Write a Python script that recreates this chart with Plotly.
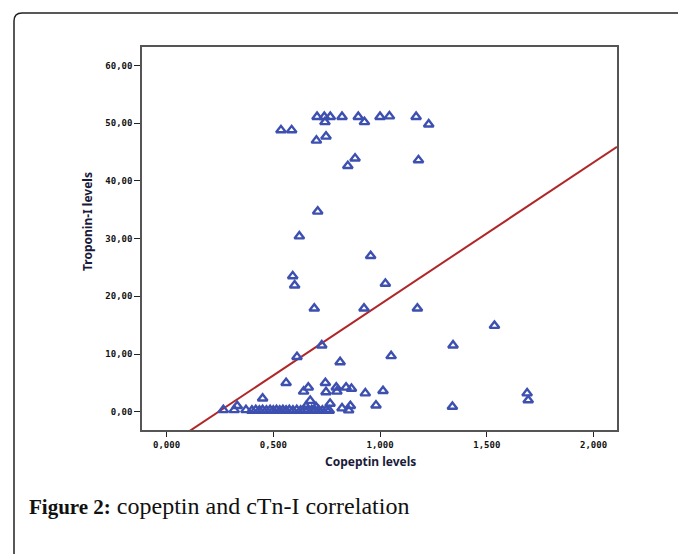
import plotly.graph_objects as go

# ---- data ----
copeptin = [
    0.536, 0.586,
    0.705, 0.739, 0.767, 0.742, 0.822, 0.898, 0.927, 1.000, 1.044, 1.169, 1.228,
    0.702, 0.747,
    0.849, 0.883, 1.180,
    0.708, 0.622, 0.956, 0.591, 0.600, 1.025,
    0.692, 0.925, 1.175, 1.536,
    1.342, 1.052, 1.014, 0.981, 1.339, 1.689, 1.694,
    0.727, 0.611, 0.813, 0.560, 0.642, 0.664, 0.744, 0.747, 0.795, 0.798, 0.841, 0.866, 0.931,
    0.450, 0.673, 0.766, 0.822, 0.861, 0.853,
    0.266, 0.317, 0.331, 0.372,
    0.400, 0.418, 0.435, 0.450, 0.468, 0.485, 0.500, 0.515, 0.530, 0.545, 0.560,
    0.575, 0.592, 0.610, 0.628, 0.645, 0.660, 0.680, 0.695, 0.712, 0.730, 0.748, 0.762,
    0.653, 0.700,
]
troponin = [
    48.8, 48.8,
    51.1, 51.1, 51.1, 50.2, 51.1, 51.1, 50.2, 51.1, 51.2, 51.1, 49.8,
    47.0, 47.7,
    42.6, 43.9, 43.6,
    34.7, 30.4, 27.0, 23.5, 21.9, 22.2,
    17.9, 17.9, 17.9, 14.9,
    11.5, 9.65, 3.6, 1.1, 0.87, 3.2, 2.0,
    11.5, 9.5, 8.6, 5.0, 3.5, 4.2, 5.0, 3.4, 4.2, 3.5, 4.2, 4.0, 3.2,
    2.3, 1.9, 1.4, 0.6, 1.0, 0.25,
    0.3, 0.3, 1.0, 0.3,
    0.2, 0.3, 0.2, 0.3, 0.2, 0.3, 0.2, 0.3, 0.2, 0.3, 0.2,
    0.3, 0.2, 0.3, 0.2, 0.3, 0.2, 0.3, 0.2, 0.3, 0.2, 0.3, 0.2,
    0.9, 0.8,
]
fit_intercept = -6.0
fit_slope = 24.6

x_tickvals = [0.0, 0.5, 1.0, 1.5, 2.0]
x_ticktext = ["0,000", "0,500", "1,000", "1,500", "2,000"]
y_tickvals = [0, 10, 20, 30, 40, 50, 60]
y_ticktext = ["0,00", "10,00", "20,00", "30,00", "40,00", "50,00", "60,00"]

x_range = [-0.115, 2.11]
y_range = [-3.17, 63.2]

# ---- figure ----
W, H = 678, 554
L, R, T, B = 142, 61, 47, 124
pw, ph = W - L - R, H - T - B


def px_x(p):
    return (p - L) / pw


def px_y(p):
    return (H - B - p) / ph


fit_x = [x_range[0], x_range[1]]
fit_y = [fit_intercept + fit_slope * v for v in fit_x]

fig = go.Figure()
fig.add_trace(go.Scatter(
    x=fit_x, y=fit_y, mode="lines",
    line=dict(color="#b0272a", width=2),
    hoverinfo="skip", showlegend=False,
))
fig.add_trace(go.Scatter(
    x=copeptin, y=troponin, mode="markers",
    marker=dict(symbol="triangle-up-open", size=8.5, color="#3d50b0",
                line=dict(width=2.4, color="#3d50b0")),
    showlegend=False, cliponaxis=False,
))

tickfont = dict(family="DejaVu Sans Mono", size=9, color="#111111", weight="bold")

fig.update_xaxes(
    range=x_range, tickvals=x_tickvals, ticktext=x_ticktext,
    showgrid=False, zeroline=False,
    showline=True, linecolor="#555555", linewidth=1.5, mirror=True,
    ticks="outside", ticklen=5, tickcolor="#222222", tickwidth=1.2,
    tickfont=tickfont,
)
fig.update_yaxes(
    range=y_range, tickvals=y_tickvals, ticktext=y_ticktext,
    showgrid=False, zeroline=False,
    showline=True, linecolor="#555555", linewidth=1.5, mirror=True,
    ticks="outside", ticklen=6, tickcolor="#222222", tickwidth=1.2,
    tickfont=tickfont,
)

# outer frame (rounded top-left corner)
fx, fy = px_x(14), px_y(13)
rx, ry = 8 / pw, 8 / ph
frame_path = (f"M {fx},{px_y(600)} L {fx},{fy - ry} "
              f"Q {fx},{fy} {fx + rx},{fy} L {px_x(700)},{fy}")

fig.update_layout(
    width=W, height=H,
    margin=dict(l=L, r=R, t=T, b=B),
    paper_bgcolor="white", plot_bgcolor="white",
    shapes=[dict(type="path", xref="paper", yref="paper", path=frame_path,
                 line=dict(color="#222222", width=1.5), layer="above")],
    annotations=[
        dict(text="<b>Copeptin levels</b>", xref="paper", yref="paper",
             x=px_x(370), y=px_y(461), showarrow=False,
             font=dict(family="Noto Sans", size=12, color="#1a1a3a"),
             xanchor="center", yanchor="middle"),
        dict(text="<b>Troponin-I levels</b>", xref="paper", yref="paper",
             x=px_x(88), y=px_y(222), showarrow=False, textangle=-90,
             font=dict(family="Noto Sans", size=12, color="#1a1a3a"),
             xanchor="center", yanchor="middle"),
        dict(text="<b><span style='font-size:21px'>Figure 2:</span></b> copeptin and cTn-I correlation",
             xref="paper", yref="paper",
             x=px_x(27), y=px_y(506), showarrow=False,
             font=dict(family="Liberation Serif", size=24, color="#111111"),
             xanchor="left", yanchor="middle"),
    ],
)

fig.write_html("out.html", config={"displayModeBar": False},
               post_script="document.body.style.margin='0px';document.body.style.overflow='hidden';")
